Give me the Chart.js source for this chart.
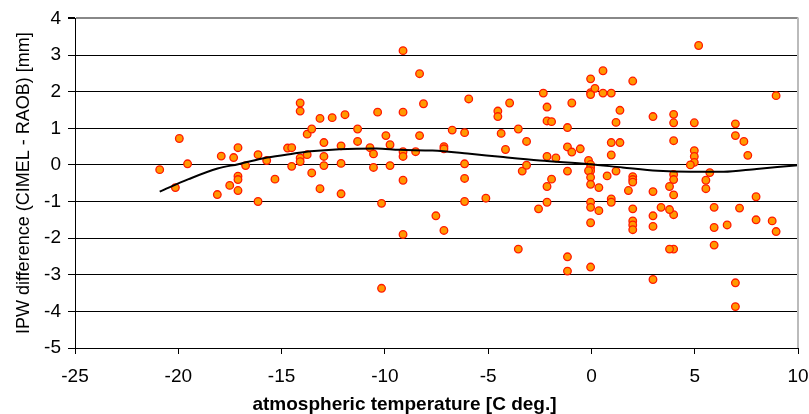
<!DOCTYPE html>
<html>
<head>
<meta charset="utf-8">
<script src="https://cdn.jsdelivr.net/npm/chart.js@4/dist/chart.umd.min.js"></script>
<style>
  html, body { margin: 0; padding: 0; background: #ffffff; }
  #wrap { width: 809px; height: 414px; position: relative; }
</style>
</head>
<body>
<div id="wrap"><canvas id="c" width="809" height="414"></canvas></div>
<script>
// atmospheric temperature [C deg.]
const tempX = [
  -20.9, -20.14, -19.95, -19.55, -18.11, -17.92, -17.51, -17.32, -17.11, -17.11,
  -17.11, -17.11, -16.74, -16.14, -16.14, -15.72, -15.32, -14.71, -14.51, -14.51,
  -14.1, -14.1, -14.1, -14.1, -13.76, -13.76, -13.54, -13.54, -13.14, -13.14,
  -12.95, -12.95, -12.95, -12.55, -12.12, -12.12, -12.12, -11.93, -11.32, -11.32,
  -10.72, -10.55, -10.55, -10.35, -10.16, -10.16, -9.95, -9.75, -9.75, -9.12,
  -9.12, -9.12, -9.12, -9.12, -9.12, -8.51, -8.32, -8.32, -8.13, -7.53,
  -7.14, -7.14, -7.14, -6.74, -6.14, -6.14, -6.14, -6.14, -5.94, -5.11,
  -4.53, -4.53, -4.37, -4.16, -3.96, -3.54, -3.54, -3.35, -3.14, -3.14,
  -2.56, -2.33, -2.15, -2.15, -2.15, -2.15, -2.15, -1.93, -1.93, -1.72,
  -1.16, -1.16, -1.16, -1.16, -1.16, -0.95, -0.95, -0.54, -0.04, -0.04,
  -0.04, 0.17, 0.56, 0.56, 0.96, -0.14, -0.04, -0.04, -0.04, -0.14,
  -0.04, -0.04, 0.36, -0.04, -0.04, 0.36, -0.04, -0.04, 0.76, 0.96,
  0.96, 1.19, 1.19, 1.38, 1.38, 0.96, 0.96, 1.79, 2.0, 2.0,
  2.0, 2.0, 2.0, 2.0, 2.0, 2.0, 2.98, 2.98, 2.98, 2.98,
  2.98, 3.37, 3.98, 3.98, 3.98, 3.98, 3.98, 3.98, 3.98, 3.98,
  3.78, 3.78, 3.78, 4.98, 4.98, 4.98, 4.98, 4.79, 5.19, 5.54,
  5.54, 5.73, 5.94, 5.94, 5.94, 6.57, 6.97, 6.97, 6.97, 6.97,
  7.38, 7.57, 7.17, 7.97, 7.97, 8.75, 8.94, 8.94
];
// IPW difference (CIMEL - RAOB) [mm]
const ipwDiff = [
  -0.13, -0.62, 0.72, 0.03, -0.81, 0.24, -0.56, 0.20, 0.47, -0.31,
  -0.40, -0.70, -0.02, 0.28, -1.00, 0.12, -0.39, 0.46, 0.47, -0.04,
  1.69, 1.47, 0.19, 0.09, 0.84, 0.28, 0.98, -0.22, 1.27, -0.65,
  0.61, 0.23, -0.02, 1.29, 0.52, 0.04, -0.79, 1.37, 0.98, 0.64,
  0.47, 0.30, -0.07, 1.44, -1.05, -3.37, 0.80, 0.55, -0.02, 3.12,
  1.44, 0.36, 0.23, -0.42, -1.90, 0.36, 2.49, 0.80, 1.67, -1.39,
  0.50, 0.44, -1.79, 0.95, 0.88, 0.03, -0.37, -1.00, 1.80, -0.91,
  1.47, 1.32, 0.86, 0.42, 1.69, 0.98, -2.30, -0.17, 0.64, -0.01,
  -1.20, 1.96, 1.58, 1.20, 0.23, -0.59, -1.02, 1.18, -0.39, 0.19,
  1.02, 0.49, -0.17, -2.51, -2.90, 1.69, 0.35, 0.44, 2.35, 1.97,
  1.92, 2.09, 2.57, 1.96, 1.96, 0.12, 0.01, -0.07, -0.16, -0.16,
  -0.34, -0.53, -0.62, -1.02, -1.16, -1.25, -1.58, -2.79, -0.30, 0.61,
  0.27, 1.16, -0.17, 1.49, 0.61, -0.93, -1.02, -0.70, 2.29, -0.32,
  -0.40, -0.47, -1.20, -1.53, -1.64, -1.77, 1.32, -0.73, -1.39, -1.68,
  -3.13, -1.16, 1.38, 1.15, 0.66, -0.26, -0.40, -0.82, -1.36, -2.30,
  -0.59, -1.22, -2.30, 1.15, 0.39, 0.23, 0.07, 0.00, 3.26, -0.42,
  -0.65, -0.21, -1.16, -1.71, -2.19, -1.64, 1.12, 0.80, -3.22, -3.87,
  0.64, 0.26, -1.18, -0.87, -1.50, -1.53, 1.89, -1.82
];
// trend curve
const trendX = [-20.9, -19.5, -18.1, -17.1, -15.7, -14.4, -13.6, -12.2, -10.4, -9.3, -7.7, -6.0, -4.4, -2.5, -0.1, 1.5, 3.2, 4.8, 6.4, 8.0, 10.0];
const trendY = [-0.73, -0.39, -0.10, 0.02, 0.20, 0.31, 0.37, 0.43, 0.45, 0.41, 0.39, 0.31, 0.22, 0.12, 0.02, -0.07, -0.16, -0.19, -0.19, -0.11, -0.01];

const xTicks = [-25, -20, -15, -10, -5, 0, 5, 10];
const yTicks = [-5, -4, -3, -2, -1, 0, 1, 2, 3, 4];

const scatterData = tempX.map((x, i) => ({ x: x, y: ipwDiff[i] }));
const trendData = trendX.map((x, i) => ({ x: x, y: trendY[i] }));

const FAM = "'Liberation Sans', Arial, sans-serif";
const tickFont = { family: FAM, size: 19 };

// thin grey frame line on the right side of the plot area
const rightBorder = {
  id: 'rightBorder',
  afterDraw(chart) {
    const a = chart.chartArea, ctx = chart.ctx;
    ctx.save();
    ctx.strokeStyle = '#bbbbbb';
    ctx.lineWidth = 2;
    ctx.beginPath();
    ctx.moveTo(a.right, a.top - 1);
    ctx.lineTo(a.right, a.bottom);
    ctx.stroke();
    ctx.restore();
  }
};

new Chart(document.getElementById('c'), {
  type: 'scatter',
  data: {
    datasets: [
      {
        type: 'line',
        label: 'trend',
        data: trendData,
        borderColor: '#000000',
        borderWidth: 2,
        pointRadius: 0,
        fill: false,
        cubicInterpolationMode: 'monotone'
      },
      {
        label: 'IPW difference',
        data: scatterData,
        backgroundColor: '#FF9900',
        borderColor: '#FF1A00',
        borderWidth: 1.3,
        pointRadius: 3.8,
        pointHoverRadius: 3.8
      }
    ]
  },
  plugins: [rightBorder],
  options: {
    responsive: false,
    animation: false,
    events: [],
    layout: { padding: { left: 0, right: 0, top: 17, bottom: 0 } },
    plugins: {
      legend: { display: false },
      tooltip: { enabled: false },
      title: {
        display: true,
        position: 'bottom',
        text: 'atmospheric temperature [C deg.]',
        color: '#000',
        font: { family: FAM, size: 19, weight: 'bold', lineHeight: 1.0 },
        padding: { top: 0, bottom: 0 }
      }
    },
    scales: {
      x: {
        type: 'linear',
        min: -25, max: 10,
        afterBuildTicks: (s) => { s.ticks = xTicks.map(v => ({ value: v })); },
        afterFit: (s) => { s.height = 47; s.paddingLeft = 0; s.paddingRight = 11; },
        ticks: { font: tickFont, color: '#000', padding: 11, maxRotation: 0 },
        grid: { drawOnChartArea: false, drawTicks: true, tickLength: 6, color: '#000' },
        border: { display: true, color: '#000', width: 1 }
      },
      y: {
        type: 'linear',
        min: -5, max: 4,
        afterBuildTicks: (s) => { s.ticks = yTicks.map(v => ({ value: v })); },
        afterFit: (s) => { s.width = 75; },
        ticks: { font: tickFont, color: '#000', padding: 7 },
        grid: {
          drawOnChartArea: true,
          drawTicks: true,
          tickLength: 7,
          color: (ctx) => (ctx.tick && ctx.tick.value === 4) ? '#888888' : '#000000',
          lineWidth: (ctx) => (ctx.tick && ctx.tick.value === 4) ? 2 : 1,
          tickColor: '#000000'
        },
        border: { display: true, color: '#000', width: 1 },
        title: {
          display: true,
          text: 'IPW difference (CIMEL - RAOB) [mm]',
          color: '#000',
          font: { family: FAM, size: 18 },
          padding: { top: 13, bottom: 0 }
        }
      }
    }
  }
});
</script>
</body>
</html>
